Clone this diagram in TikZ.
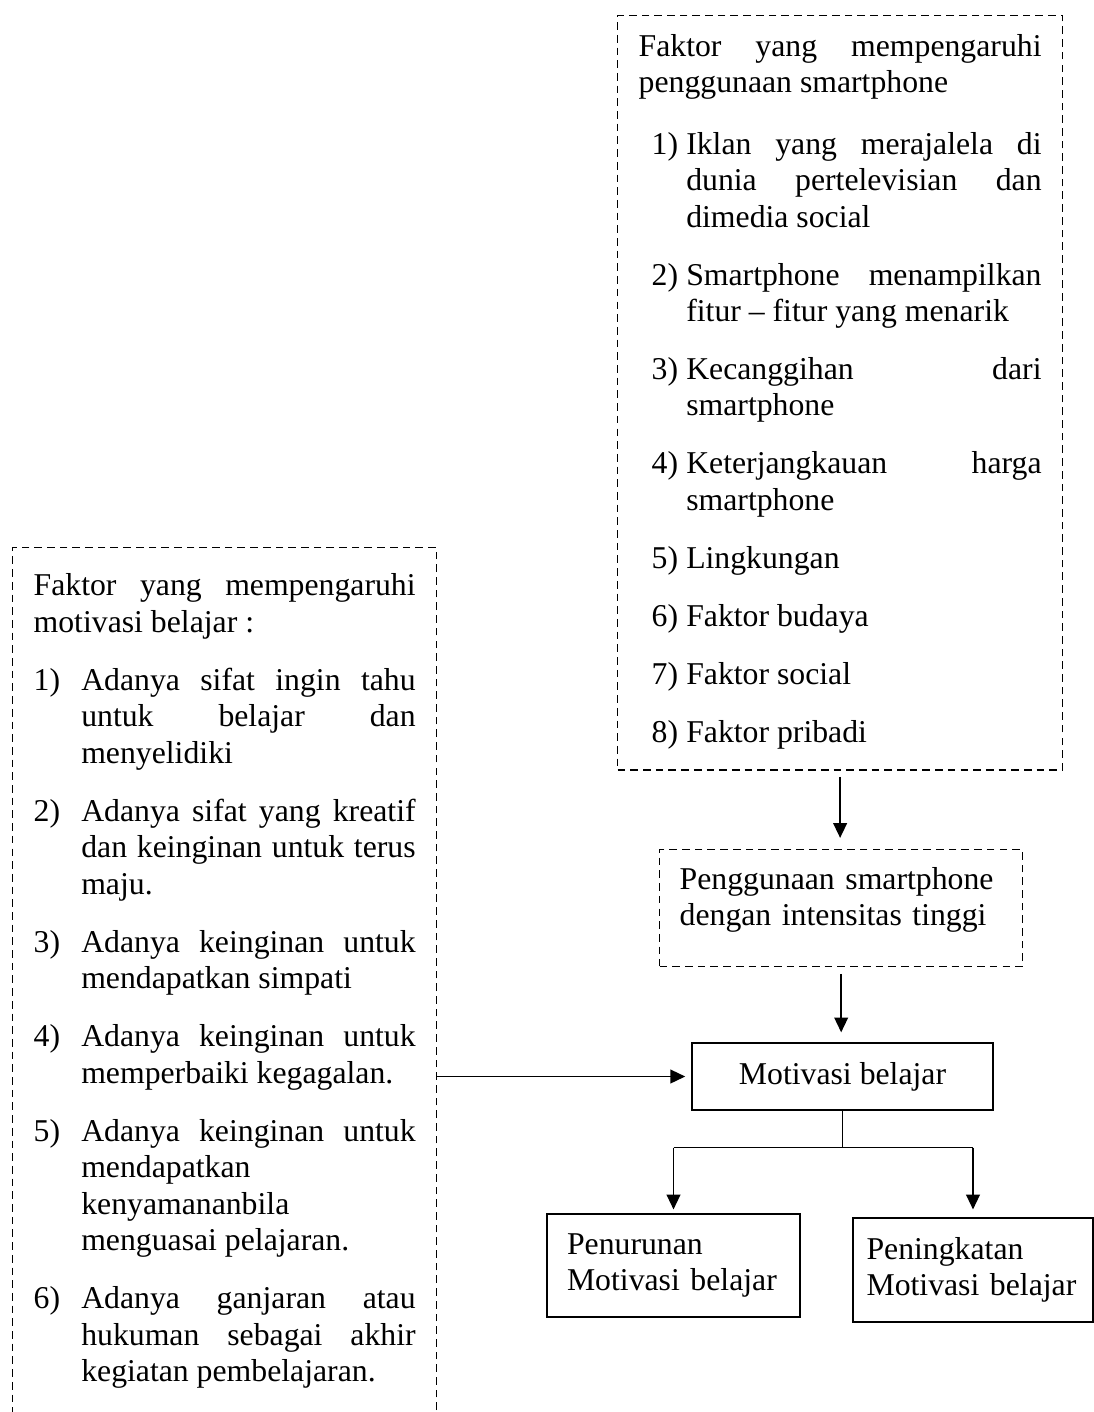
\documentclass[tikz,border=0pt]{standalone}
\usepackage{fontspec}
\setmainfont{Liberation Serif}
\usetikzlibrary{arrows.meta, calc}
\tolerance=10000
\hbadness=10000
\hyphenpenalty=10000
\newcommand{\butir}[2]{\par\vspace{8.1pt}\leftskip=18pt\noindent\llap{\makebox[#1][l]{#2}}}
\newcommand{\sisabawah}[1]{\par\vspace*{#1}\hrule height 0pt}
\tikzset{
  putus/.style={draw, line width=0.5pt, dash pattern=on 2.9pt off 1.9pt, align=justify, anchor=north west},
  kotak/.style={draw, line width=0.5pt, inner xsep=7.56pt, align=left},
  panah/.style={-{Triangle[length=5.6pt, width=5.2pt]}, line width=0.6pt}
}

\begin{document}
\begin{tikzpicture}[x=0.378pt, y=-0.378pt, every node/.style={font=\fontsize{12pt}{13.8pt}\selectfont}]
\useasboundingbox (0,0) rectangle (1094,1412);
% dashed boxes
\node[putus, text width=152.3pt, inner xsep=7.94pt, inner ysep=7pt] (faktorhp) at (617,15) {Faktor yang mempengaruhi\linebreak penggunaan smartphone\par\vspace{1.3pt}
\butir{13.1pt}{1)}Iklan yang merajalela di\linebreak dunia pertelevisian dan\linebreak dimedia social
\butir{13.1pt}{2)}Smartphone menampilkan\linebreak fitur – fitur yang menarik
\butir{13.1pt}{3)}Kecanggihan dari\linebreak smartphone
\butir{13.1pt}{4)}Keterjangkauan harga\linebreak smartphone
\butir{13.1pt}{5)}Lingkungan
\butir{13.1pt}{6)}Faktor budaya
\butir{13.1pt}{7)}Faktor social
\butir{13.1pt}{8)}Faktor pribadi\sisabawah{1pt}};
\node[putus, text width=144.4pt, inner xsep=7.94pt, inner ysep=9.9pt] (faktorbelajar) at (12,547) {Faktor yang mempengaruhi\linebreak motivasi belajar :
\butir{18pt}{1)}Adanya sifat ingin tahu\linebreak untuk belajar dan\linebreak menyelidiki
\butir{18pt}{2)}Adanya sifat yang kreatif\linebreak dan keinginan untuk terus\linebreak maju.
\butir{18pt}{3)}Adanya keinginan untuk\linebreak mendapatkan simpati
\butir{18pt}{4)}Adanya keinginan untuk\linebreak memperbaiki kegagalan.
\butir{18pt}{5)}Adanya keinginan untuk\linebreak mendapatkan\linebreak kenyamananbila\linebreak menguasai pelajaran.
\butir{18pt}{6)}Adanya ganjaran atau\linebreak hukuman sebagai akhir\linebreak kegiatan pembelajaran.\sisabawah{30pt}};
\node[putus, align=left, text width=122.1pt, inner xsep=7.56pt, inner ysep=6.6pt] (intensitas) at (659,849) {Penggunaan smartphone\\ dengan intensitas tinggi\sisabawah{6.2pt}};
% solid boxes
\node[kotak, minimum width=113.8pt, minimum height=25.3pt, align=center] (motivasi) at (842.5,1076.5) {Motivasi belajar};
\node[kotak, text width=80.5pt, minimum height=38.9pt] (penurunan) at (673.5,1265.5) {Penurunan\\ Motivasi belajar};
\node[kotak, text width=80.5pt, inner xsep=5.1pt, minimum height=39.3pt] (peningkatan) at (973,1270) {Peningkatan\\ Motivasi belajar};
% arrows
\draw[panah, shorten <=2.3pt, shorten >=4.2pt] (faktorhp.south) -- (faktorhp.south |- intensitas.north);
\draw[panah, shorten <=2.6pt, shorten >=3.8pt] (intensitas.south) -- (intensitas.south |- motivasi.north);
\draw[panah, shorten >=2.3pt] (faktorbelajar.east |- motivasi.west) -- (motivasi.west);
% branch to the two results
\coordinate (cabang) at ($(motivasi.south)+(0,37)$);
\draw[line width=0.6pt] (motivasi.south) -- (cabang);
\draw[line width=0.6pt] (penurunan.north |- cabang) -- (peningkatan.north |- cabang);
\draw[panah, shorten >=1.5pt] (penurunan.north |- cabang) -- (penurunan.north);
\draw[panah, shorten >=3pt] (peningkatan.north |- cabang) -- (peningkatan.north);
\end{tikzpicture}
\end{document}
